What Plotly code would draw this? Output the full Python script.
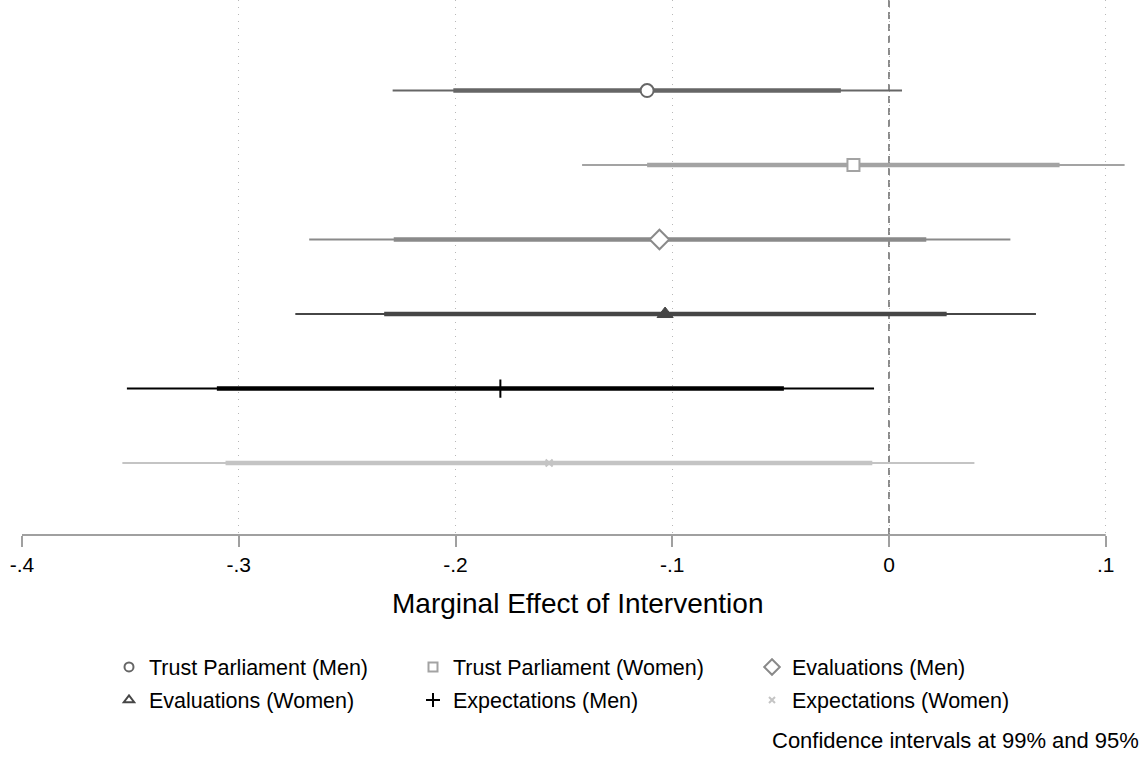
import plotly.graph_objects as go

# ---- data ----
labels = ["Trust Parliament (Men)", "Trust Parliament (Women)", "Evaluations (Men)",
          "Evaluations (Women)", "Expectations (Men)", "Expectations (Women)"]
est = [-0.1116, -0.0164, -0.1059, -0.1033, -0.1793, -0.1568]
lo95 = [-0.2010, -0.1116, -0.2285, -0.2329, -0.3101, -0.3061]
hi95 = [-0.0222, 0.0787, 0.0172, 0.0266, -0.0485, -0.0077]
lo99 = [-0.2290, -0.1416, -0.2675, -0.2739, -0.3516, -0.3537]
hi99 = [0.0060, 0.1087, 0.0560, 0.0678, -0.0069, 0.0394]
tick_vals = [-0.4, -0.3, -0.2, -0.1, 0, 0.1]
tick_text = ["-.4", "-.3", "-.2", "-.1", "0", ".1"]

# ---- styles ----
colors = ["#666666", "#a3a3a3", "#8a8a8a", "#464646", "#000000", "#c4c4c4"]
symbols = ["circle", "square", "diamond", "triangle-up", "cross-thin", "x-thin"]
plot_fill = ["white", "white", "white", None, None, None]
plot_size = [13, 12, 15, 14, 13, 7]
leg_size = [9, 9, 12, 9, 10, 6]
FONT = "Liberation Sans, Arial, Helvetica, sans-serif"

W, H = 1147, 758
ML, MB = 22, 223
PW, PH = W - ML, H - MB


def px_x(px):
    return (px - ML) / PW


def px_y(py):
    return (PH - py) / PH


fig = go.Figure()
ypos = list(range(1, len(labels) + 1))

for i, name in enumerate(labels):
    c = colors[i]
    y = ypos[i]
    fig.add_trace(go.Scatter(x=[lo99[i], hi99[i]], y=[y, y], mode="lines",
                             line=dict(color=c, width=2), showlegend=False, hoverinfo="skip"))
    fig.add_trace(go.Scatter(x=[lo95[i], hi95[i]], y=[y, y], mode="lines",
                             line=dict(color=c, width=4.5), showlegend=False, hoverinfo="skip"))
    if plot_fill[i] == "white":
        mk = dict(symbol=symbols[i], size=plot_size[i], color="white", line=dict(color=c, width=2))
    elif symbols[i] in ("cross-thin", "x-thin"):
        mk = dict(symbol=symbols[i], size=plot_size[i], color=c, line=dict(color=c, width=2))
    else:
        mk = dict(symbol=symbols[i], size=plot_size[i], color=c, line=dict(color=c, width=1))
    fig.add_trace(go.Scatter(x=[est[i]], y=[y], mode="markers", marker=mk,
                             showlegend=False, name=name))

# legend entries (one small legend per entry so the grid matches)
text_x = [149, 453, 792]
row_y = [667, 700]
for i, name in enumerate(labels):
    c = colors[i]
    lg = "legend" if i == 0 else f"legend{i + 1}"
    if symbols[i] in ("cross-thin", "x-thin"):
        mk = dict(symbol=symbols[i], size=leg_size[i], color=c, line=dict(color=c, width=2))
    else:
        mk = dict(symbol=symbols[i], size=leg_size[i], color="white", line=dict(color=c, width=2))
    fig.add_trace(go.Scatter(x=[None], y=[None], mode="markers", marker=mk,
                             name=name, legend=lg, showlegend=True))

legends = {}
for i in range(len(labels)):
    lg = "legend" if i == 0 else f"legend{i + 1}"
    col, row = i % 3, i // 3
    legends[lg] = dict(
        x=(text_x[col] - 40) / W, xref="container", xanchor="left",
        y=1 - row_y[row] / H, yref="container", yanchor="middle",
        bgcolor="rgba(0,0,0,0)", borderwidth=0,
        font=dict(family=FONT, size=21.5, color="#000000"),
        itemwidth=30,
    )

shapes = [
    # dashed reference line at zero
    dict(type="line", x0=0, x1=0, xref="x", y0=0, y1=1, yref="paper",
         line=dict(color="#666666", width=1.5, dash="7px,5px"), layer="below"),
    # axis line spanning the labelled ticks
    dict(type="line", x0=tick_vals[0], x1=tick_vals[-1], xref="x", y0=0, y1=0, yref="paper",
         line=dict(color="#a0a0a0", width=2)),
]

fig.update_layout(
    width=W, height=H,
    margin=dict(l=ML, r=0, t=0, b=MB, autoexpand=False),
    paper_bgcolor="white", plot_bgcolor="white",
    font=dict(family=FONT, size=21, color="#000000"),
    shapes=shapes,
    annotations=[
        dict(text="Marginal Effect of Intervention", x=px_x(577), y=px_y(603),
             xref="paper", yref="paper", xanchor="center", yanchor="middle",
             showarrow=False, font=dict(family=FONT, size=28, color="#000000")),
        dict(text="Confidence intervals at 99% and 95%", x=px_x(1141), y=px_y(740),
             xref="paper", yref="paper", xanchor="right", yanchor="middle",
             showarrow=False, font=dict(family=FONT, size=22, color="#000000")),
    ],
    **legends,
)

fig.update_xaxes(
    range=[-0.4, -0.4 + PW / 2167.5],
    tickvals=tick_vals, ticktext=tick_text,
    ticks="outside", ticklen=11, tickwidth=1.5, tickcolor="#a0a0a0",
    tickfont=dict(family=FONT, size=21, color="#000000"),
    showgrid=True, gridcolor="#b8b8b8", griddash="1px,6px", gridwidth=1,
    zeroline=False, showline=False, automargin=False,
)
fig.update_yaxes(
    range=[6.966, -0.215], visible=False, showgrid=False, zeroline=False,
)

fig.write_html("out.html")
